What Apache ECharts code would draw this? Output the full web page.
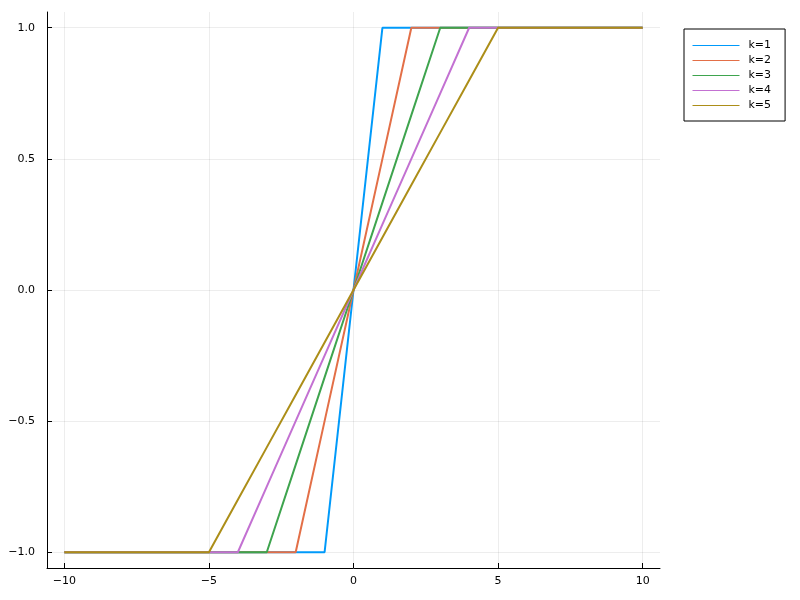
<!DOCTYPE html>
<html><head><meta charset="utf-8">
<script src="https://cdn.jsdelivr.net/npm/echarts@6/dist/echarts.min.js"></script>
<style>html,body{margin:0;padding:0;background:#fff}#c{width:800px;height:600px}</style>
</head><body><div id="c"></div>
<script>
const xs = [-10,-9,-8,-7,-6,-5,-4,-3,-2,-1,0,1,2,3,4,5,6,7,8,9,10];
const k1 = [-1,-1,-1,-1,-1,-1,-1,-1,-1,-1,0,1,1,1,1,1,1,1,1,1,1];
const k2 = [-1,-1,-1,-1,-1,-1,-1,-1,-1,-0.5,0,0.5,1,1,1,1,1,1,1,1,1];
const k3 = [-1,-1,-1,-1,-1,-1,-1,-1,-0.6667,-0.3333,0,0.3333,0.6667,1,1,1,1,1,1,1,1];
const k4 = [-1,-1,-1,-1,-1,-1,-1,-0.75,-0.5,-0.25,0,0.25,0.5,0.75,1,1,1,1,1,1,1];
const k5 = [-1,-1,-1,-1,-1,-1,-0.8,-0.6,-0.4,-0.2,0,0.2,0.4,0.6,0.8,1,1,1,1,1,1];
const seriesNames = ['k=1','k=2','k=3','k=4','k=5'];
const seriesVals = [k1,k2,k3,k4,k5];
const colors = ['#009AFA','#E36F47','#3EA44E','#C371D2','#AC8E18'];
const xTicks = [-10,-5,0,5,10];
const yTicks = [-1,-0.5,0,0.5,1];
const fmt = v => String(v).replace('-', '\u2212');
const fmtY = v => v.toFixed(1).replace('-', '\u2212');

const chart = echarts.init(document.getElementById('c'), null, {renderer:'canvas'});
const font = 'DejaVu Sans';
chart.setOption({
  animation:false,
  backgroundColor:'#fff',
  textStyle:{fontFamily:font},
  grid:{left:47, top:12, right:140, bottom:32, containLabel:false},
  legend:{
    orient:'vertical', left:684, top:29,
    padding:[10,14,9,8], itemGap:2,
    borderColor:'#000', borderWidth:1, backgroundColor:'#fff',
    itemWidth:47, itemHeight:13,
    itemStyle:{opacity:0},
    textStyle:{fontFamily:font, fontSize:11, color:'#000', lineHeight:13, padding:[0,0,0,4]},
    data: seriesNames.map((n,i)=>({name:n, lineStyle:{color:colors[i], width:1, opacity:1}}))
  },
  xAxis:{
    type:'value', min:-10.6, max:10.6,
    axisLine:{show:true, onZero:false, lineStyle:{color:'#000', width:1}},
    axisTick:{show:true, inside:true, length:5, customValues:xTicks, lineStyle:{color:'#000'}},
    axisLabel:{customValues:xTicks, formatter:fmt, fontSize:11, color:'#000', margin:8, fontFamily:font},
    splitLine:{show:true, lineStyle:{color:'rgba(0,0,0,0.07)', width:1}}
  },
  yAxis:{
    type:'value', min:-1.06, max:1.06,
    axisLine:{show:true, onZero:false, lineStyle:{color:'#000', width:1}},
    axisTick:{show:true, inside:true, length:5, customValues:yTicks, lineStyle:{color:'#000'}},
    axisLabel:{customValues:yTicks, formatter:fmtY, fontSize:11, color:'#000', margin:12, fontFamily:font},
    splitLine:{show:true, lineStyle:{color:'rgba(0,0,0,0.07)', width:1}}
  },
  series: seriesNames.map((n,i)=>({
    name:n, type:'line', showSymbol:false, symbol:'none',
    data: xs.map((x,j)=>[x, seriesVals[i][j]]),
    lineStyle:{color:colors[i], width:2},
    itemStyle:{color:colors[i]}
  }))
});
</script></body></html>
